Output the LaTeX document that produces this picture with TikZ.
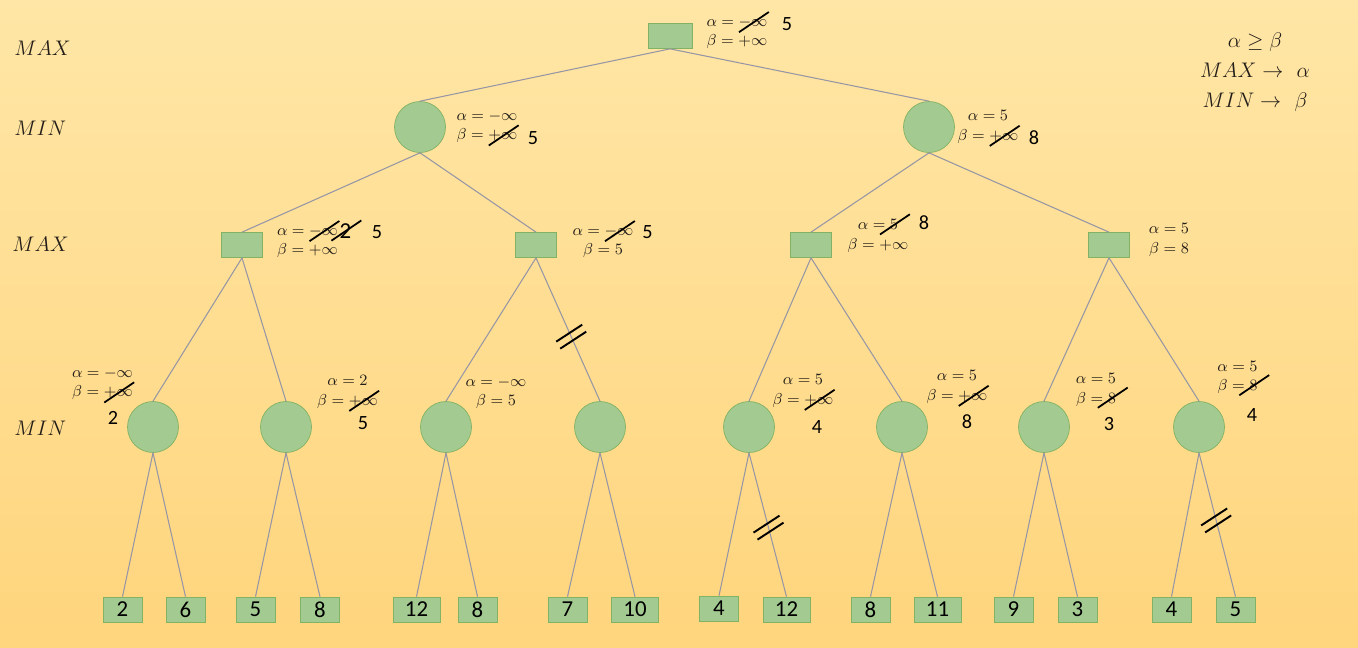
\documentclass[tikz,border=0pt]{standalone}
\usepackage{fontspec}
\newfontfamily\numfont{Carlito}

\definecolor{bgtop}{RGB}{255,230,166}
\definecolor{bgbot}{RGB}{255,213,125}
\definecolor{nodegreen}{RGB}{163,203,145}
\definecolor{nodeedge}{RGB}{130,178,100}
\definecolor{linkgrey}{RGB}{150,150,165}
\definecolor{labgrey}{RGB}{35,30,25}

% crossed-out value
\newcommand{\struck}[1]{\tikz[baseline=(s.base)]{\node[inner sep=0pt,outer sep=0pt] (s) {#1};
  \draw[overlay,black,line width=1pt] ([shift={(-8pt,-5.5pt)}]s.center) -- ([shift={(9pt,6pt)}]s.center);}}

\begin{document}
\begin{tikzpicture}[x=0.02cm,y=-0.02cm,
  maxnode/.style={draw=nodeedge,fill=nodegreen,minimum width=0.82cm,minimum height=0.5cm,inner sep=0pt},
  minnode/.style={circle,draw=nodeedge,fill=nodegreen,minimum size=1.02cm,inner sep=0pt},
  leaf/.style={maxnode,minimum width=0.78cm,font=\numfont\fontsize{13}{13}\selectfont},
  link/.style={linkgrey,line width=0.6pt},
  bounds/.style={align=center,inner sep=0pt,text=labgrey,font=\fontsize{9}{11}\selectfont},
  score/.style={inner sep=0pt,font=\numfont\fontsize{11.5}{12}\selectfont},
  rowlabel/.style={anchor=west,inner sep=0pt,text=labgrey,font=\fontsize{11.5}{12}\selectfont},
  cutmark/.style={black,line width=1.1pt}]

\shade[top color=bgtop,bottom color=bgbot] (0,0) rectangle (1358,647);
\useasboundingbox (0,0) rectangle (1358,647);

% level names
\node[rowlabel] (l0) at (14,48) {$MAX$};
\node[rowlabel] (l1) at (14,128) {$MIN$};
\node[rowlabel] (l2) at (12,244) {$MAX$};
\node[rowlabel] (l3) at (14,428) {$MIN$};

\node[align=center,text=labgrey,font=\fontsize{13}{17}\selectfont] (rules) at (1255,72) {$\alpha \geq \beta$\\$MAX \to\ \alpha$\\$MIN \to\ \beta$};

% tree
\node[maxnode,minimum width=0.88cm] (root) at (670,36) {};
\node[minnode] (a) at (420,127) {};
\node[minnode] (b) at (929,127) {};
\node[maxnode] (aa) at (242,245) {};
\node[maxnode] (ab) at (536,245) {};
\node[maxnode] (ba) at (811,245) {};
\node[maxnode] (bb) at (1109,245) {};
\node[minnode] (aaa) at (153,427) {};
\node[minnode] (aab) at (286,427) {};
\node[minnode] (aba) at (446,427) {};
\node[minnode] (abb) at (600,427) {};
\node[minnode] (baa) at (749,427) {};
\node[minnode] (bab) at (902,427) {};
\node[minnode] (bba) at (1044,427) {};
\node[minnode] (bbb) at (1199,427) {};

% leaves
\node[leaf] (v1) at (122.5,609.5) {2};
\node[leaf] (v2) at (185.5,609.5) {6};
\node[leaf] (v3) at (255.5,609.5) {5};
\node[leaf] (v4) at (320,609.5) {8};
\node[leaf,minimum width=0.94cm] (v5) at (416.5,609.5) {12};
\node[leaf] (v6) at (477.5,609.5) {8};
\node[leaf] (v7) at (567.5,609.5) {7};
\node[leaf,minimum width=0.94cm] (v8) at (635,609.5) {10};
\node[leaf] (v9) at (719,608.5) {4};
\node[leaf,minimum width=0.94cm] (v10) at (786.5,609.5) {12};
\node[leaf] (v11) at (870.5,609.5) {8};
\node[leaf,minimum width=0.94cm] (v12) at (937.5,609.5) {11};
\node[leaf] (v13) at (1013.5,609.5) {9};
\node[leaf] (v14) at (1077.5,609.5) {3};
\node[leaf] (v15) at (1171.5,609.5) {4};
\node[leaf] (v16) at (1235.5,609.5) {5};

\draw[link] (root.south) -- (a.north);
\draw[link] (root.south) -- (b.north);
\draw[link] (a.south) -- (aa.north);
\draw[link] (a.south) -- (ab.north);
\draw[link] (b.south) -- (ba.north);
\draw[link] (b.south) -- (bb.north);
\draw[link] (aa.south) -- (aaa.north);
\draw[link] (aa.south) -- (aab.north);
\draw[link] (ab.south) -- (aba.north);
\draw[link] (ab.south) -- (abb.north);
\draw[link] (ba.south) -- (baa.north);
\draw[link] (ba.south) -- (bab.north);
\draw[link] (bb.south) -- (bba.north);
\draw[link] (bb.south) -- (bbb.north);
\draw[link] (aaa.south) -- (v1.north);
\draw[link] (aaa.south) -- (v2.north);
\draw[link] (aab.south) -- (v3.north);
\draw[link] (aab.south) -- (v4.north);
\draw[link] (aba.south) -- (v5.north);
\draw[link] (aba.south) -- (v6.north);
\draw[link] (abb.south) -- (v7.north);
\draw[link] (abb.south) -- (v8.north);
\draw[link] (baa.south) -- (v9.north);
\draw[link] (baa.south) -- (v10.north);
\draw[link] (bab.south) -- (v11.north);
\draw[link] (bab.south) -- (v12.north);
\draw[link] (bba.south) -- (v13.north);
\draw[link] (bba.south) -- (v14.north);
\draw[link] (bbb.south) -- (v15.north);
\draw[link] (bbb.south) -- (v16.north);

% pruned branches
\path (ab.south) -- coordinate[pos=0.55] (cut1) (abb.north);
\path (baa.south) -- coordinate[pos=0.52] (cut2) (v10.north);
\path (bbb.south) -- coordinate[pos=0.47] (cut3) (v16.north);
\draw[cutmark] ([shift={(-15,5)}]cut1) -- ([shift={(11,-12)}]cut1);
\draw[cutmark] ([shift={(-11,12)}]cut1) -- ([shift={(15,-5)}]cut1);
\draw[cutmark] ([shift={(-15,5)}]cut2) -- ([shift={(11,-12)}]cut2);
\draw[cutmark] ([shift={(-11,12)}]cut2) -- ([shift={(15,-5)}]cut2);
\draw[cutmark] ([shift={(-15,5)}]cut3) -- ([shift={(11,-12)}]cut3);
\draw[cutmark] ([shift={(-11,12)}]cut3) -- ([shift={(15,-5)}]cut3);

% alpha / beta bounds
\node[bounds] (rootab) at (737,33) {$\alpha = \struck{$-\infty$}$\\$\beta = +\infty$};
\node[score] (rootv) at (787,24) {5};
\node[bounds] (aab1) at (487,127) {$\alpha = -\infty$\\$\beta = \struck{$+\infty$}$};
\node[score] (av) at (533,138) {5};
\node[bounds] (bab1) at (988,127) {$\alpha = 5$\\$\beta = \struck{$+\infty$}$};
\node[score] (bv) at (1034,138) {8};

\node[bounds] (aaab) at (307.5,242) {$\alpha = \struck{$-\infty$}$\\$\beta = +\infty$};
\node[score,font=\numfont\fontsize{13}{13}\selectfont] (aav1) at (345.5,231) {\struck{2}};
\node[score] (aav2) at (377,232) {5};
\node[bounds] (abab) at (603,242) {$\alpha = \struck{$-\infty$}$\\$\beta = 5$};
\node[score] (abv) at (647.5,232) {5};
\node[bounds] (baab) at (878,236) {$\alpha = \struck{$5$}$\\$\beta = +\infty$};
\node[score] (bav) at (924,223) {8};
\node[bounds] (bbab) at (1169,240) {$\alpha = 5$\\$\beta = 8$};

\node[bounds] (aaaab) at (102.5,384) {$\alpha = -\infty$\\$\beta = \struck{$+\infty$}$};
\node[score] (aaav) at (113,418) {2};
\node[bounds] (aabab) at (347.5,392) {$\alpha = 2$\\$\beta = \struck{$+\infty$}$};
\node[score] (aabv) at (363,423) {5};
\node[bounds] (abaab) at (496,393) {$\alpha = -\infty$\\$\beta = 5$};
\node[bounds] (baaab) at (803,391) {$\alpha = 5$\\$\beta = \struck{$+\infty$}$};
\node[score] (baav) at (817,427) {4};
\node[bounds] (babab) at (957,387) {$\alpha = 5$\\$\beta = \struck{$+\infty$}$};
\node[score] (babv) at (967,422) {8};
\node[bounds] (bbaab) at (1096,390) {$\alpha = 5$\\$\beta = \struck{$8$}$};
\node[score] (bbav) at (1109,424) {3};
\node[bounds] (bbbab) at (1237.5,377.5) {$\alpha = 5$\\$\beta = \struck{$8$}$};
\node[score] (bbbv) at (1252,415) {4};
\end{tikzpicture}
\end{document}
